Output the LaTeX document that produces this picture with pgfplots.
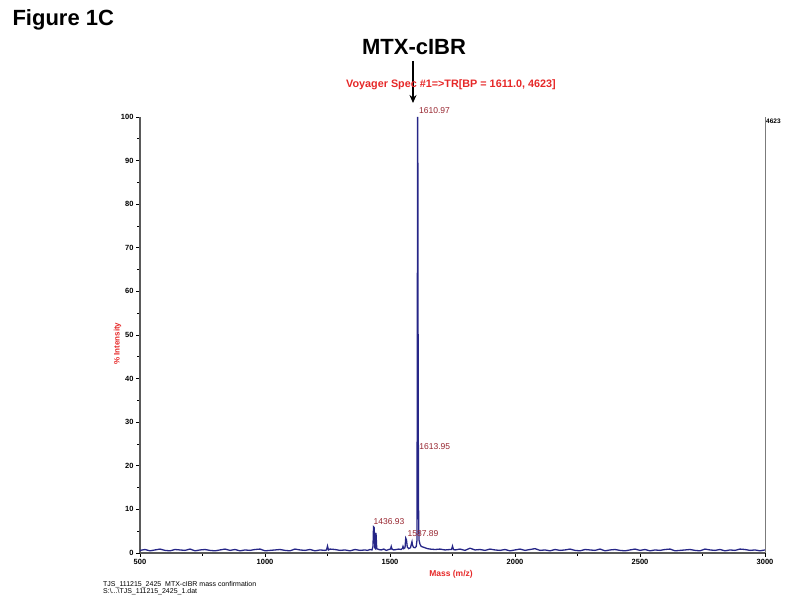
\documentclass[border=0pt]{standalone}
\usepackage{pgfplots}
\pgfplotsset{compat=1.18}
\usetikzlibrary{arrows.meta}
\usepackage{fontspec}
\setmainfont{Liberation Sans}

\definecolor{spec}{RGB}{38,38,135}
\definecolor{pklab}{RGB}{150,35,45}
\definecolor{redlab}{RGB}{230,40,40}
\definecolor{axgray}{RGB}{90,90,90}

\begin{document}
\begin{tikzpicture}
\useasboundingbox (0,0) rectangle (800pt,610pt);

\begin{axis}[
    at={(140pt,57pt)}, anchor=south west,
    scale only axis, width=625pt, height=436pt,
    xmin=500, xmax=3000, ymin=0, ymax=100,
    axis x line=bottom, axis y line=left,
    axis line style={-, axgray, line width=1.1pt},
    xtick={500,1000,...,3000}, minor x tick num=1,
    ytick={0,10,...,100}, minor y tick num=1,
    tick align=outside,
    major tick length=4pt, minor tick length=3pt,
    tick style={black, line width=0.6pt},
    ticklabel style={font=\fontsize{7.5}{8}\selectfont\bfseries},
    /pgf/number format/assume math mode=true,
    /pgf/number format/1000 sep={},
    xticklabel style={yshift=1pt},
    yticklabel style={xshift=1pt},
    clip=false,
]
\addplot[spec, line width=1.3pt] coordinates {
(500,0.6)(520,0.8)(540,0.5)(560,0.7)(580,0.9)(600,0.6)(620,0.5)(640,0.8)(660,0.7)(680,0.6)
(700,0.9)(720,0.5)(740,0.7)(760,0.8)(780,0.6)(800,0.5)(820,0.7)(840,0.9)(860,0.6)(880,0.8)
(900,0.5)(920,0.7)(940,0.6)(960,0.8)(980,0.9)(1000,0.5)(1020,0.6)(1040,0.7)(1060,0.8)(1080,0.6)
(1100,0.5)(1120,0.9)(1140,0.7)(1160,0.6)(1180,0.8)(1200,0.5)(1220,0.7)(1240,0.6)(1246,0.7)(1250,1.6)
(1254,0.7)(1260,0.9)(1280,0.8)(1300,0.6)(1320,0.7)(1340,0.5)(1360,0.8)(1380,0.6)(1400,0.7)(1410,0.6)
(1420,0.8)(1428,0.7)(1432,1.5)(1434,6.0)(1437,5.8)(1439,1.2)(1442,1.0)(1444,4.6)(1447,1.0)(1455,0.8)
(1465,0.7)(1475,0.9)(1485,0.6)(1495,0.8)(1502,0.9)(1505,1.5)(1508,0.9)(1515,0.7)(1525,0.8)(1535,0.9)
(1545,0.8)(1550,1.1)(1552,1.5)(1555,1.0)(1560,1.2)(1563,3.4)(1566,3.0)(1569,1.4)(1575,1.0)(1582,1.2)
(1586,2.2)(1588,2.6)(1590,1.8)(1594,1.3)(1600,1.2)(1605,1.5)(1608,3.0)(1610.5,100)(1611.5,88)(1612.5,45)
(1613.5,22)(1614.5,8)(1616,3)(1620,2)(1625,1.5)(1630,1.4)(1640,1.2)(1650,1.0)(1660,0.9)(1680,0.8)
(1700,0.9)(1720,0.7)(1740,0.8)(1746,0.8)(1750,1.6)(1754,0.8)(1760,0.7)(1780,0.9)(1800,0.6)(1820,1.1)
(1840,0.7)(1860,0.8)(1880,0.6)(1900,0.9)(1920,0.7)(1940,0.6)(1960,0.8)(1980,0.5)(2000,0.7)(2020,0.9)
(2040,0.6)(2060,0.8)(2080,1.0)(2100,0.6)(2120,0.7)(2140,0.5)(2160,0.8)(2180,0.6)(2200,0.7)(2220,0.9)
(2240,0.6)(2260,0.5)(2280,0.8)(2300,0.7)(2320,0.6)(2340,0.9)(2360,0.5)(2380,0.7)(2400,0.8)(2420,0.6)
(2440,0.5)(2460,0.7)(2480,0.9)(2500,0.6)(2520,0.8)(2540,0.5)(2560,0.7)(2580,0.6)(2600,0.8)(2620,0.9)
(2640,0.5)(2660,0.6)(2680,0.7)(2700,0.8)(2720,0.6)(2740,0.5)(2760,0.9)(2780,0.7)(2800,0.6)(2820,0.8)
(2840,0.5)(2860,0.7)(2880,0.6)(2900,0.9)(2920,0.8)(2940,0.6)(2960,0.7)(2980,0.5)(3000,0.7)
};
\draw[axgray!80, line width=1pt] (rel axis cs:1,0) -- (rel axis cs:1,1);
\node[anchor=west, font=\fontsize{6.5}{7}\selectfont\bfseries, inner sep=1pt] at (rel axis cs:1,0.99) {4623};
\node[anchor=south west, pklab, font=\fontsize{8.5}{9}\selectfont, inner sep=1pt] at (axis cs:1612,100.4) {1610.97};
\node[anchor=west, pklab, font=\fontsize{8.5}{9}\selectfont, inner sep=1pt] at (axis cs:1613,24.5) {1613.95};
\node[anchor=west, pklab, font=\fontsize{8.5}{9}\selectfont, inner sep=1pt] at (axis cs:1430,7.1) {1436.93};
\node[anchor=west, pklab, font=\fontsize{8.5}{9}\selectfont, inner sep=1pt] at (axis cs:1566,4.4) {1587.89};
\node[rotate=90, redlab, font=\fontsize{8}{9}\selectfont\bfseries] at (axis description cs:-0.036,0.48) {\% Intensity};
\node[redlab, font=\fontsize{8.5}{9}\selectfont\bfseries] at (axis description cs:0.4976,-0.05) {Mass (m/z)};
\end{axis}

\node[anchor=west, font=\fontsize{22}{24}\selectfont\bfseries] at (9pt,590pt) {Figure 1C};
\node[font=\fontsize{22}{24}\selectfont\bfseries] at (414pt,563pt) {MTX-cIBR};
\draw[-{Stealth[length=8pt,width=7pt]}, line width=1.6pt] (413pt,549pt) -- (413pt,507pt);
\node[redlab, font=\fontsize{10.8}{11}\selectfont\bfseries] at (451pt,525pt) {Voyager Spec \#1=>TR[BP = 1611.0, 4623]};
\node[anchor=north west, align=left, font=\fontsize{7}{7.5}\selectfont, inner sep=0pt] at (103pt,29pt) {TJS\_111215\_2425\ \ MTX-cIBR mass confirmation\\S:\textbackslash...\textbackslash TJS\_111215\_2425\_1.dat};
\end{tikzpicture}
\end{document}
